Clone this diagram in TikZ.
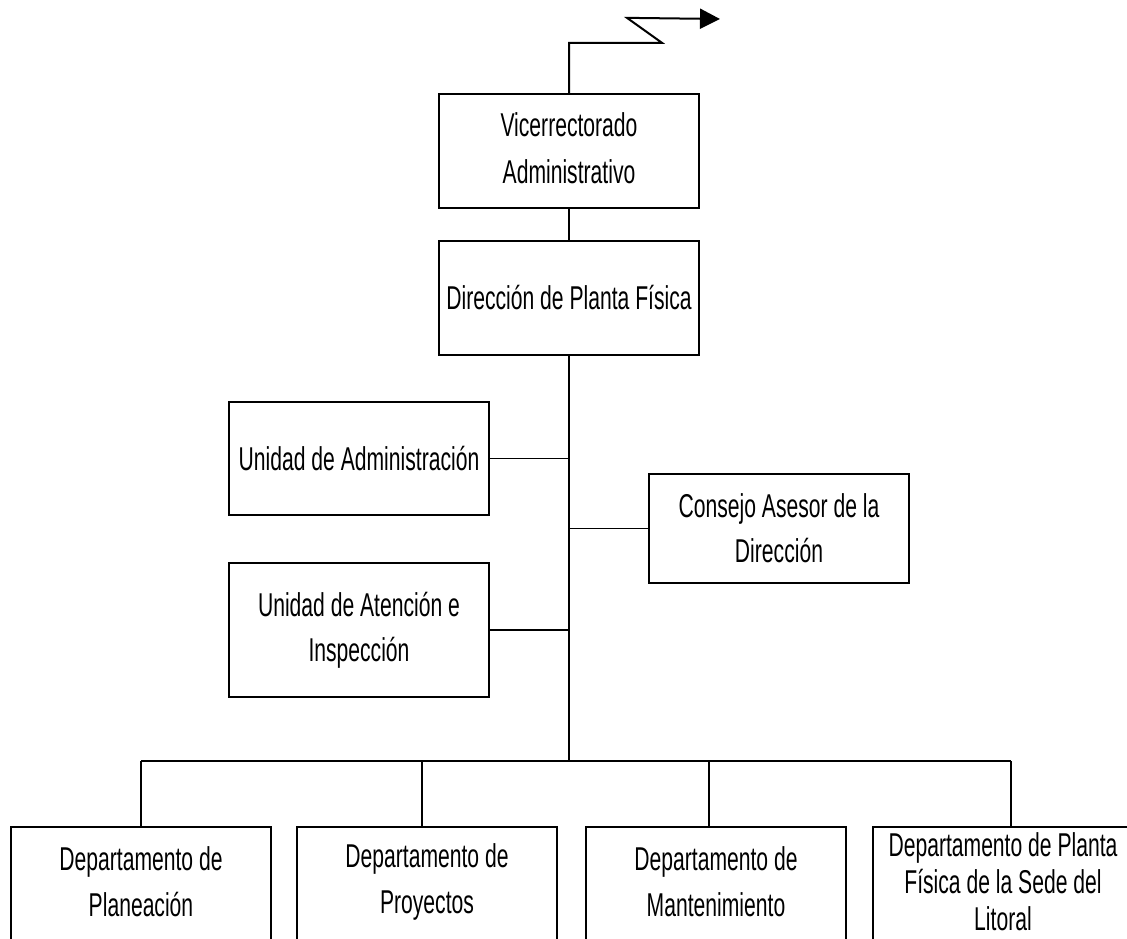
\documentclass[tikz,border=0pt]{standalone}
\usepackage{fontspec}
\setmainfont{Liberation Sans}[FakeStretch=0.64]
\usetikzlibrary{arrows.meta}
\begin{document}
\begin{tikzpicture}[x=1pt,y=-1pt,
  box/.style={draw=black,line width=1.3pt,rectangle,minimum width=260pt,inner sep=0pt,
    align=center,font=\fontsize{33}{45}\selectfont},
  thickbox/.style={box,line width=2.3pt},
  lbl/.style={align=center,inner sep=0pt,font=\fontsize{33}{46}\selectfont},
  conn/.style={draw=black,line width=1.2pt},
  arrowline/.style={draw=black,line width=2pt,-{Triangle[length=20pt,width=20pt]}}]
\useasboundingbox (0,0) rectangle (1127,939);
\clip (0,0) rectangle (1127,939);
% top boxes
\node[thickbox,minimum height=114pt] (vic) at (569,151) {};
\node[lbl,font=\fontsize{33}{47}\selectfont] (tvic) at (569,148) {Vicerrectorado\\Administrativo};
\node[box,minimum height=114pt] (dir) at (569,298) {Dirección de Planta Física};
\node[box,minimum height=113pt] (ua) at (359,458.5) {Unidad de Administración};
\node[box,minimum height=109pt] (ca) at (779,528.5) {Consejo Asesor de la\\Dirección};
\node[box,minimum height=134pt] (uat) at (359,630) {Unidad de Atención e\\Inspección};
% bottom boxes
\node[box,minimum height=130pt] (dp) at (141,892) {};
\node[box,minimum height=130pt] (dpr) at (427,892) {};
\node[box,minimum height=130pt] (dm) at (716,892) {};
\node[box,minimum height=130pt] (dl) at (1003,892) {};
\node[lbl] (tdp) at (141,882) {Departamento de\\Planeación};
\node[lbl] (tdpr) at (427,882) {Departamento de\\Proyectos};
\node[lbl] (tdm) at (716,882) {Departamento de\\Mantenimiento};
\node[lbl,font=\fontsize{33}{37}\selectfont] (tdl) at (1003,881.5) {Departamento de Planta\\Física de la Sede del\\Litoral};
% outgoing arrow
\coordinate (out) at (720,19);
\draw[arrowline] (vic.north) -- ++(0,-50) -- ++(93,0) -- ++(-35,-25) -- (out);
% main trunk
\coordinate (bus) at (569,761);
\coordinate (c1) at (141,761);
\coordinate (c2) at (422,761);
\coordinate (c3) at (709,761);
\coordinate (c4) at (1011,761);
\draw[conn] (vic.south) -- (dir.north);
\draw[conn] (dir.south) -- (bus);
\draw[conn] (ua.east) -- (ua.east -| dir.south);
\draw[conn] (ca.west) -- (ca.west -| dir.south);
\draw[conn] (uat.east) -- (uat.east -| dir.south);
\draw[conn] (c1) -- (c4);
\draw[conn] (c1) -- (c1 |- dp.north);
\draw[conn] (c2) -- (c2 |- dpr.north);
\draw[conn] (c3) -- (c3 |- dm.north);
\draw[conn] (c4) -- (c4 |- dl.north);
\end{tikzpicture}
\end{document}
